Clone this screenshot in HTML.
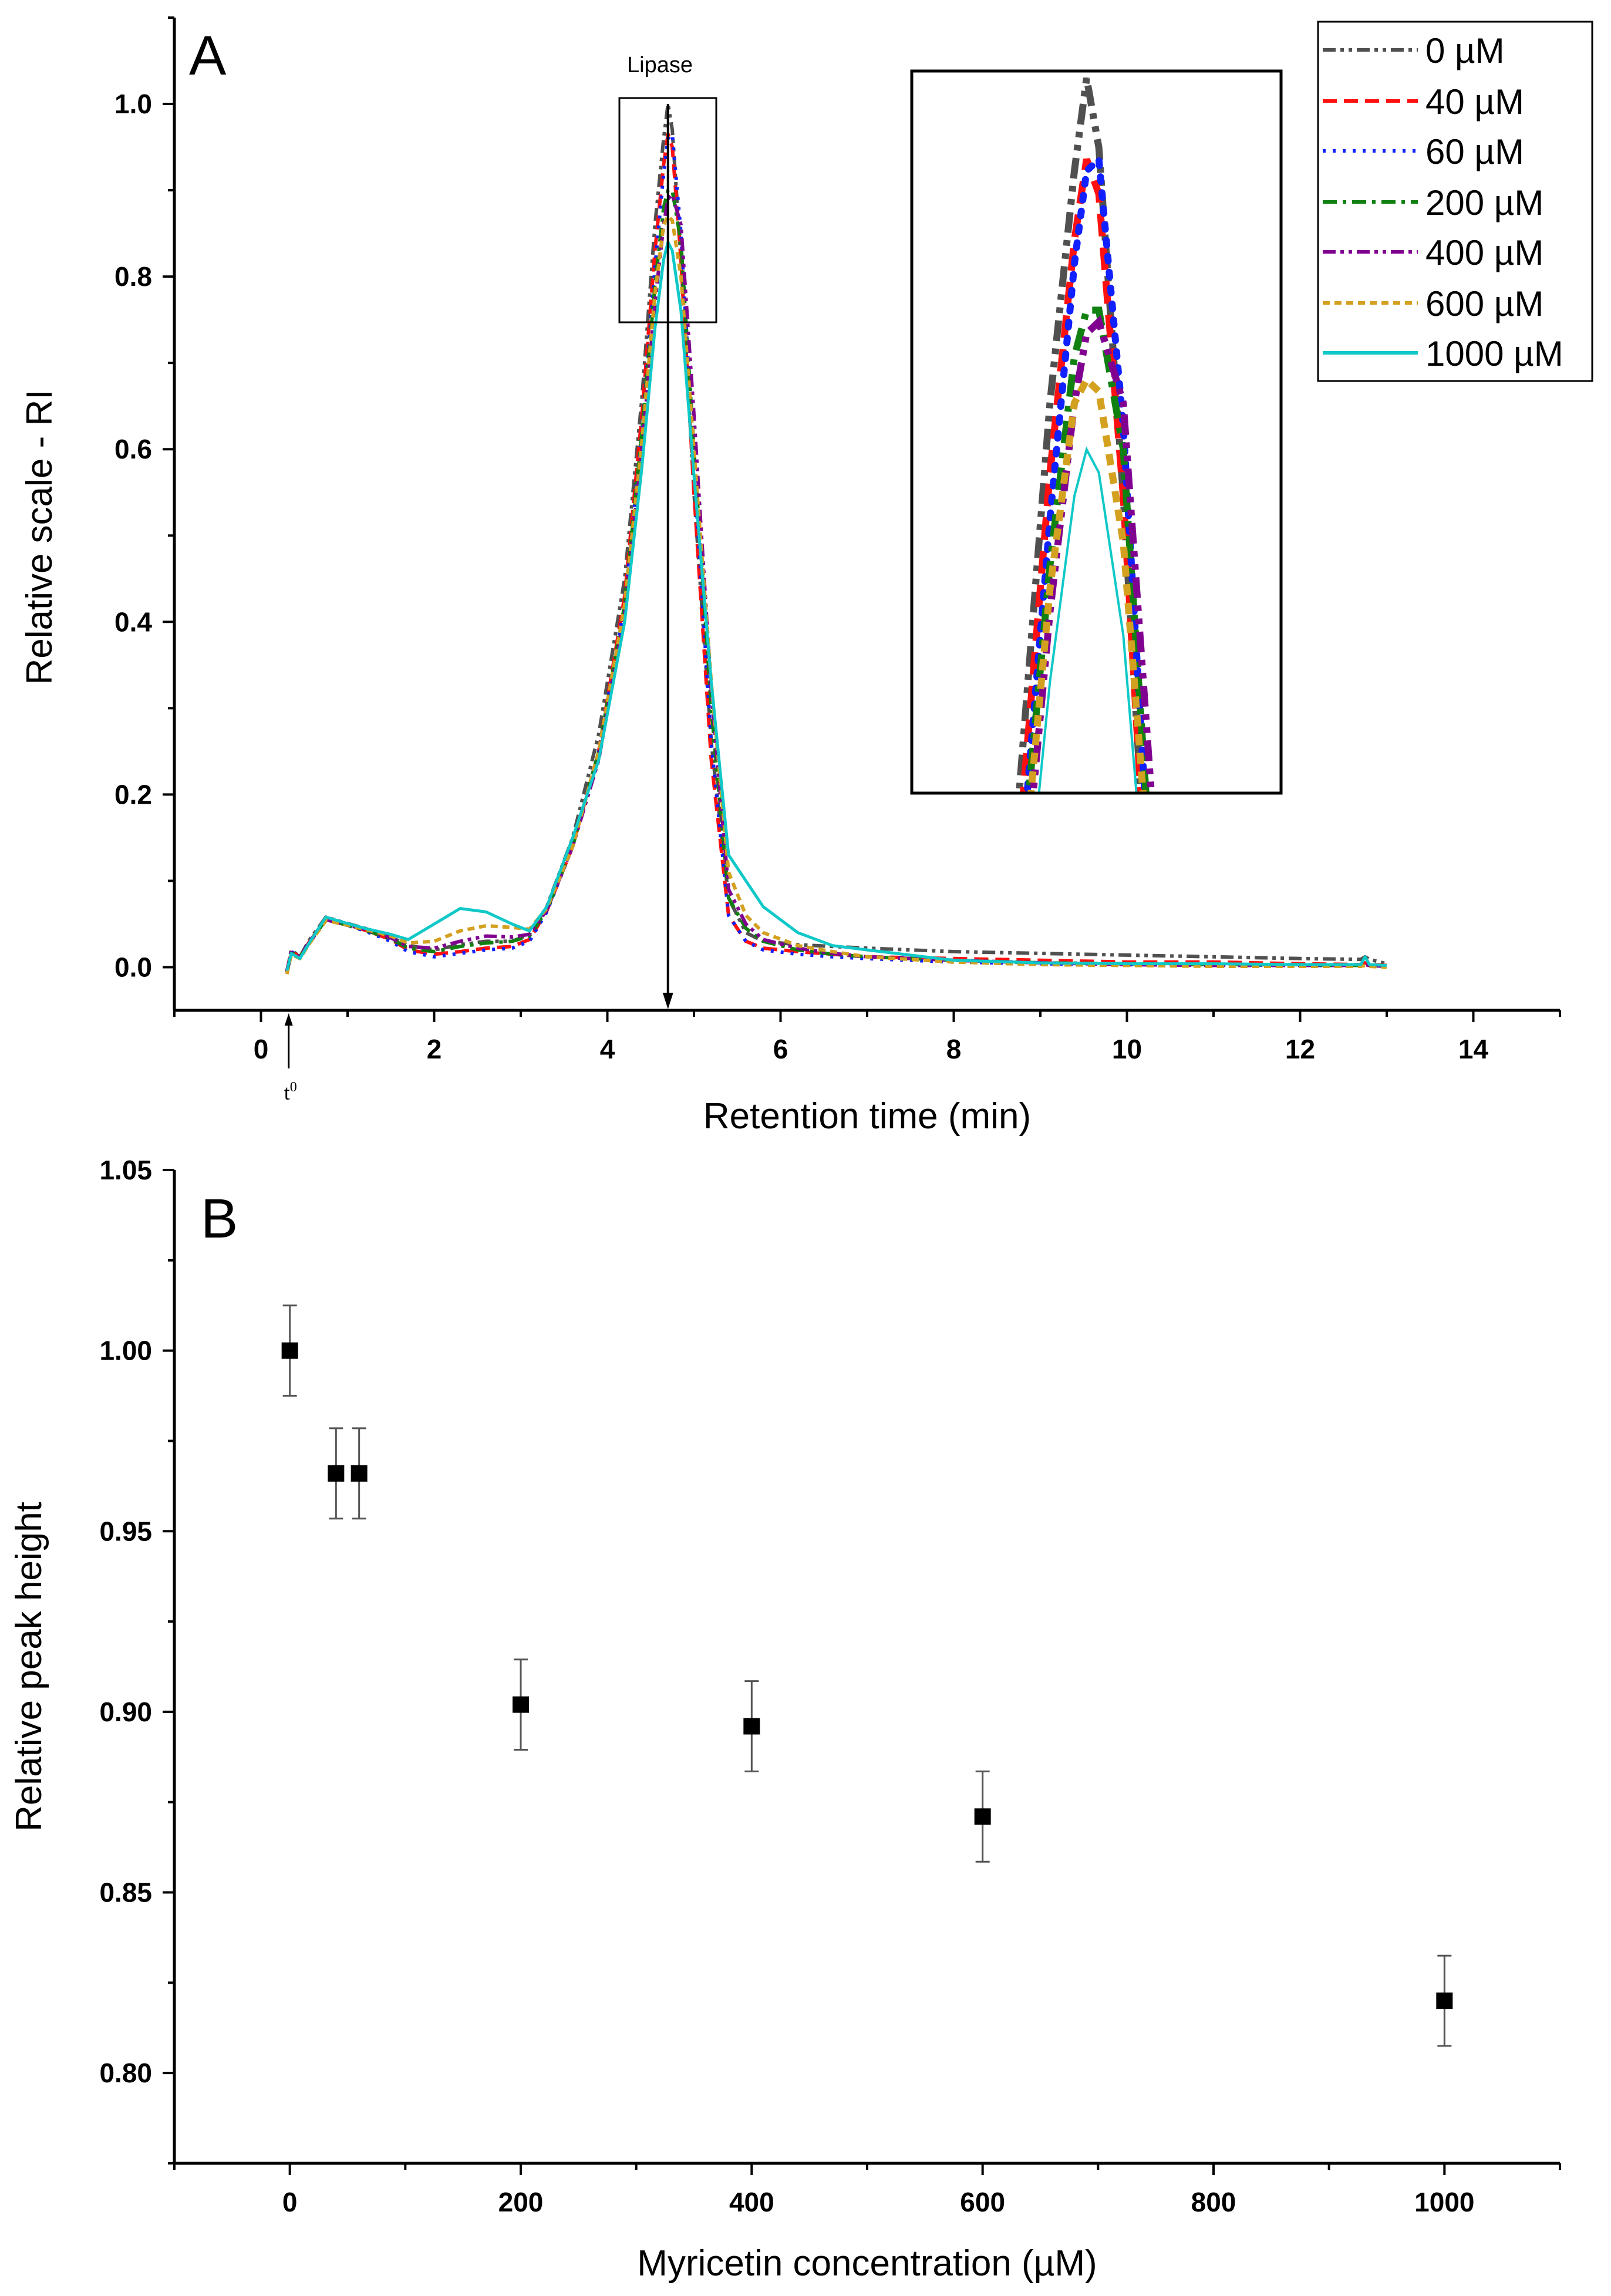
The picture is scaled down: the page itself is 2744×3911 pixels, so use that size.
<!DOCTYPE html>
<html><head><meta charset="utf-8">
<style>
html,body{margin:0;padding:0;background:#fff;width:2744px;height:3911px;overflow:hidden;}
svg{display:block;font-family:"Liberation Sans",sans-serif;}
</style></head>
<body>
<svg id="fig" width="2744" height="3911" viewBox="0 0 2744 3911" xmlns="http://www.w3.org/2000/svg">
<defs>
<clipPath id="insetClip"><rect x="1553" y="121" width="629" height="1230"/></clipPath>
</defs>
<g id="panelA"></g>
<g id="panelB"></g>
</svg>
<script>
// ---------- Panel A data ----------
const times = [0.3,0.35,0.45,0.55,0.75,0.95,1.2,1.5,1.7,2.0,2.3,2.6,2.9,3.1,3.3,3.6,3.9,4.2,4.4,4.55,4.65,4.7,4.75,4.85,5.0,5.2,5.4,5.6,5.8,6.2,6.6,7,8,9,10,11,12,12.7,12.75,12.8,13];
const seriesLabels = ["0 µM","40 µM","60 µM","200 µM","400 µM","600 µM","1000 µM"];
const s0    = [-0.005,0.02,0.012,0.03,0.058,0.052,0.045,0.035,0.025,0.02,0.026,0.03,0.03,0.038,0.07,0.15,0.27,0.45,0.66,0.86,0.96,1.0,0.97,0.82,0.55,0.26,0.08,0.04,0.03,0.026,0.024,0.022,0.018,0.016,0.014,0.012,0.01,0.009,0.012,0.009,0.004];
const s40   = [-0.004,0.018,0.012,0.028,0.056,0.05,0.043,0.032,0.02,0.015,0.018,0.022,0.024,0.032,0.065,0.14,0.25,0.43,0.64,0.83,0.93,0.965,0.95,0.82,0.55,0.24,0.06,0.03,0.022,0.018,0.015,0.012,0.01,0.008,0.006,0.006,0.004,0.003,0.005,0.003,0.002];
const s60   = [-0.004,0.018,0.012,0.028,0.056,0.05,0.042,0.03,0.018,0.012,0.016,0.02,0.022,0.03,0.064,0.14,0.25,0.42,0.62,0.81,0.92,0.96,0.965,0.85,0.58,0.26,0.06,0.03,0.02,0.015,0.012,0.01,0.006,0.004,0.003,0.003,0.002,0.002,0.003,0.002,0.001];
const s200  = [-0.006,0.017,0.012,0.027,0.055,0.05,0.043,0.033,0.022,0.018,0.024,0.028,0.03,0.036,0.066,0.14,0.25,0.42,0.62,0.79,0.88,0.9,0.9,0.84,0.6,0.3,0.08,0.045,0.03,0.02,0.015,0.012,0.008,0.005,0.004,0.003,0.003,0.002,0.003,0.002,0.001];
const s400  = [-0.005,0.017,0.012,0.027,0.055,0.05,0.044,0.034,0.024,0.022,0.03,0.036,0.035,0.038,0.066,0.14,0.24,0.41,0.6,0.77,0.86,0.89,0.895,0.86,0.64,0.32,0.09,0.05,0.032,0.022,0.016,0.012,0.008,0.005,0.003,0.002,0.002,0.002,0.003,0.002,0.001];
const s600  = [-0.008,0.015,0.01,0.026,0.054,0.05,0.044,0.036,0.028,0.03,0.042,0.048,0.046,0.044,0.068,0.14,0.25,0.42,0.61,0.78,0.86,0.87,0.865,0.8,0.6,0.33,0.11,0.06,0.04,0.025,0.018,0.012,0.006,0.003,0.002,0.001,0.001,0.001,0.002,0.001,0.0];
const s1000 = [-0.004,0.016,0.01,0.027,0.058,0.052,0.045,0.038,0.032,0.05,0.068,0.064,0.05,0.042,0.07,0.15,0.24,0.4,0.58,0.74,0.82,0.84,0.83,0.76,0.57,0.33,0.13,0.1,0.07,0.04,0.025,0.02,0.008,0.005,0.004,0.004,0.003,0.003,0.012,0.003,0.002];
const allSeries = [s0,s40,s60,s200,s400,s600,s1000];
const xTicksA = [0,2,4,6,8,10,12,14];
const yTicksA = [0.0,0.2,0.4,0.6,0.8,1.0];

// ---------- Panel B data ----------
const conc = [0,40,60,200,400,600,1000];
const peakHeight = [1.000,0.966,0.966,0.902,0.896,0.871,0.820];
const peakErr = [0.0125,0.0125,0.0125,0.0125,0.0125,0.0125,0.0125];
const xTicksB = [0,200,400,600,800,1000];
const yTicksB = ["0.80","0.85","0.90","0.95","1.00","1.05"];

const NS = "http://www.w3.org/2000/svg";
function mk(parent, tag, attrs){ const e=document.createElementNS(NS,tag); for(const k in attrs) e.setAttribute(k,attrs[k]); parent.appendChild(e); return e; }

const styles = [
 {c:"#505050", d:"22 8 6 8 6 8", w:6},
 {c:"#ff1010", d:"24 12", w:6},
 {c:"#1020ff", d:"5 12", w:6},
 {c:"#108010", d:"24 10 6 10", w:6},
 {c:"#800090", d:"22 8 6 8 6 8", w:6},
 {c:"#d4a020", d:"12 8", w:6},
 {c:"#10c8c8", d:"", w:5}
];

// ===== Panel A =====
const A = document.getElementById('panelA');
const ax = {l:297,r:2657,t:30,b:1721,x0:-1,x1:15,y0:-0.05,y1:1.1};
const sxA = v => ax.l + (v-ax.x0)/(ax.x1-ax.x0)*(ax.r-ax.l);
const syA = v => ax.b - (v-ax.y0)/(ax.y1-ax.y0)*(ax.b-ax.t);

allSeries.forEach((vals,i)=>{
  let d = vals.map((v,j)=>(j?'L':'M')+sxA(times[j]).toFixed(1)+','+syA(v).toFixed(1)).join(' ');
  const p = mk(A,'path',{d:d,fill:'none',stroke:styles[i].c,'stroke-width':styles[i].w,'stroke-dasharray':styles[i].d,'stroke-linejoin':'round'});
  
  
});

let axl = mk(A,'line',{x1:ax.l,y1:ax.t,x2:ax.l,y2:ax.b,stroke:'#000','stroke-width':5});
 
let axb = mk(A,'line',{x1:ax.l-2,y1:ax.b,x2:ax.r,y2:ax.b,stroke:'#000','stroke-width':5});
 
for(let v=-1; v<=15; v++){
  const major = v%2===0;
  mk(A,'line',{x1:sxA(v),y1:ax.b,x2:sxA(v),y2:ax.b+(major?20:11),stroke:'#000','stroke-width':4});
}
xTicksA.forEach(v=>{
  const t = mk(A,'text',{x:sxA(v),y:ax.b+82,'font-size':46,'font-weight':'bold','text-anchor':'middle'});
  t.textContent=v;
   
});
for(let k=0;k<=11;k++){
  const v=k*0.1; const major = k%2===0;
  mk(A,'line',{x1:ax.l,y1:syA(v),x2:ax.l-(major?20:11),y2:syA(v),stroke:'#000','stroke-width':4});
}
yTicksA.forEach(v=>{
  const t = mk(A,'text',{x:ax.l-38,y:syA(v)+16,'font-size':46,'font-weight':'bold','text-anchor':'end'});
  t.textContent=v.toFixed(1);
   
});
let ttl = mk(A,'text',{x:0,y:0,'font-size':62,'text-anchor':'middle',transform:'translate(88,915) rotate(-90)'});
ttl.textContent='Relative scale - RI';  
let xtl = mk(A,'text',{x:1477,y:1922,'font-size':62,'text-anchor':'middle'});
xtl.textContent='Retention time (min)';  
let pa = mk(A,'text',{x:322,y:127,'font-size':95});
pa.textContent='A';  

const px = sxA(4.7);
mk(A,'line',{x1:px,y1:syA(1.0),x2:px,y2:ax.b-18,stroke:'#000','stroke-width':4});
let ah = mk(A,'polygon',{points:`${px-9},${ax.b-30} ${px+9},${ax.b-30} ${px},${ax.b-2}`,fill:'#000'});
 
const tx = sxA(0.32);
mk(A,'line',{x1:tx,y1:1820,x2:tx,y2:1735,stroke:'#000','stroke-width':3});
mk(A,'polygon',{points:`${tx-7},1747 ${tx+7},1747 ${tx},1726`,fill:'#000'});
let t0 = mk(A,'text',{x:tx-8,y:1873,'font-size':36,'font-family':'Liberation Serif, serif'});
t0.innerHTML='t<tspan dy="-14" font-size="24">0</tspan>';
 

let zr = mk(A,'rect',{x:1055,y:167,width:165,height:382,fill:'none',stroke:'#000','stroke-width':3});
 
let lp = mk(A,'text',{x:1124,y:123,'font-size':38,'text-anchor':'middle'});
lp.textContent='Lipase';  

const ins = {l:1553,r:2182,t:121,b:1351,x0:3.985,x1:5.495,y0:0.692,y1:1.003};
const sxI = v => ins.l + (v-ins.x0)/(ins.x1-ins.x0)*(ins.r-ins.l);
const syI = v => ins.b - (v-ins.y0)/(ins.y1-ins.y0)*(ins.b-ins.t);
const ig = mk(A,'g',{'clip-path':'url(#insetClip)'});
 
allSeries.forEach((vals,i)=>{
  let d = vals.map((v,j)=>(j?'L':'M')+sxI(times[j]).toFixed(1)+','+syI(v).toFixed(1)).join(' ');
  const st = styles[i];
  const dash = st.d ? st.d.split(' ').map(n=>n*1.6).join(' ') : '';
  const p = mk(ig,'path',{d:d,fill:'none',stroke:st.c,'stroke-width':i===6?4:12,'stroke-dasharray':dash,'stroke-linecap':i===2?'round':'butt'});
  
  
});
let ib = mk(A,'rect',{x:1553,y:121,width:629,height:1230,fill:'none',stroke:'#000','stroke-width':5});
 

const lg = mk(A,'g',{});
 
mk(lg,'rect',{x:2245,y:37,width:467,height:612,fill:'#fff',stroke:'#000','stroke-width':3});
const legY=[85,172,257,344,429,516,601];
seriesLabels.forEach((lab,i)=>{
  const st=styles[i];
  const g = mk(lg,'g',{});
   
  mk(g,'line',{x1:2253,y1:legY[i],x2:2415,y2:legY[i],stroke:st.c,'stroke-width':6,'stroke-dasharray':st.d});
  const t = mk(g,'text',{x:2428,y:legY[i]+22,'font-size':60}); t.textContent=lab;
});

// ===== Panel B =====
const B = document.getElementById('panelB');
const bx = {l:297,r:2657,t:1993,b:3685,x0:-100,x1:1100,y0:0.775,y1:1.05};
const sxB = v => bx.l + (v-bx.x0)/(bx.x1-bx.x0)*(bx.r-bx.l);
const syB = v => bx.b - (v-bx.y0)/(bx.y1-bx.y0)*(bx.b-bx.t);
let bl = mk(B,'line',{x1:bx.l,y1:bx.t,x2:bx.l,y2:bx.b,stroke:'#000','stroke-width':5});
 
let bb = mk(B,'line',{x1:bx.l-2,y1:bx.b,x2:bx.r,y2:bx.b,stroke:'#000','stroke-width':5});
 
for(let v=-100; v<=1100; v+=100){
  const major = v%200===0;
  mk(B,'line',{x1:sxB(v),y1:bx.b,x2:sxB(v),y2:bx.b+(major?20:11),stroke:'#000','stroke-width':4});
}
xTicksB.forEach(v=>{
  const t = mk(B,'text',{x:sxB(v),y:bx.b+82,'font-size':46,'font-weight':'bold','text-anchor':'middle'});
  t.textContent=v;  
});
for(let k=0;k<=10;k++){
  const v=0.8+k*0.025; const major=k%2===0;
  mk(B,'line',{x1:bx.l,y1:syB(v),x2:bx.l-(major?20:11),y2:syB(v),stroke:'#000','stroke-width':4});
}
mk(B,'line',{x1:bx.l,y1:syB(0.775),x2:bx.l-11,y2:syB(0.775),stroke:'#000','stroke-width':4});
yTicksB.forEach(s=>{
  const t = mk(B,'text',{x:bx.l-38,y:syB(parseFloat(s))+16,'font-size':46,'font-weight':'bold','text-anchor':'end'});
  t.textContent=s;  
});
conc.forEach((c,i)=>{
  const x=sxB(c), y=syB(peakHeight[i]), y1=syB(peakHeight[i]+peakErr[i]), y2=syB(peakHeight[i]-peakErr[i]);
  const g = mk(B,'g',{});
   
  mk(g,'line',{x1:x,y1:y1,x2:x,y2:y2,stroke:'#555','stroke-width':3});
  mk(g,'line',{x1:x-12,y1:y1,x2:x+12,y2:y1,stroke:'#555','stroke-width':3});
  mk(g,'line',{x1:x-12,y1:y2,x2:x+12,y2:y2,stroke:'#555','stroke-width':3});
  mk(g,'rect',{x:x-14,y:y-14,width:28,height:28,fill:'#000'});
});
let byt = mk(B,'text',{x:0,y:0,'font-size':62,'text-anchor':'middle',transform:'translate(70,2839) rotate(-90)'});
byt.textContent='Relative peak height';  
let bxt = mk(B,'text',{x:1477,y:3876,'font-size':62,'text-anchor':'middle'});
bxt.textContent='Myricetin concentration (µM)';  
let pb = mk(B,'text',{x:342,y:2108,'font-size':95});
pb.textContent='B';  
</script>
</body></html>
